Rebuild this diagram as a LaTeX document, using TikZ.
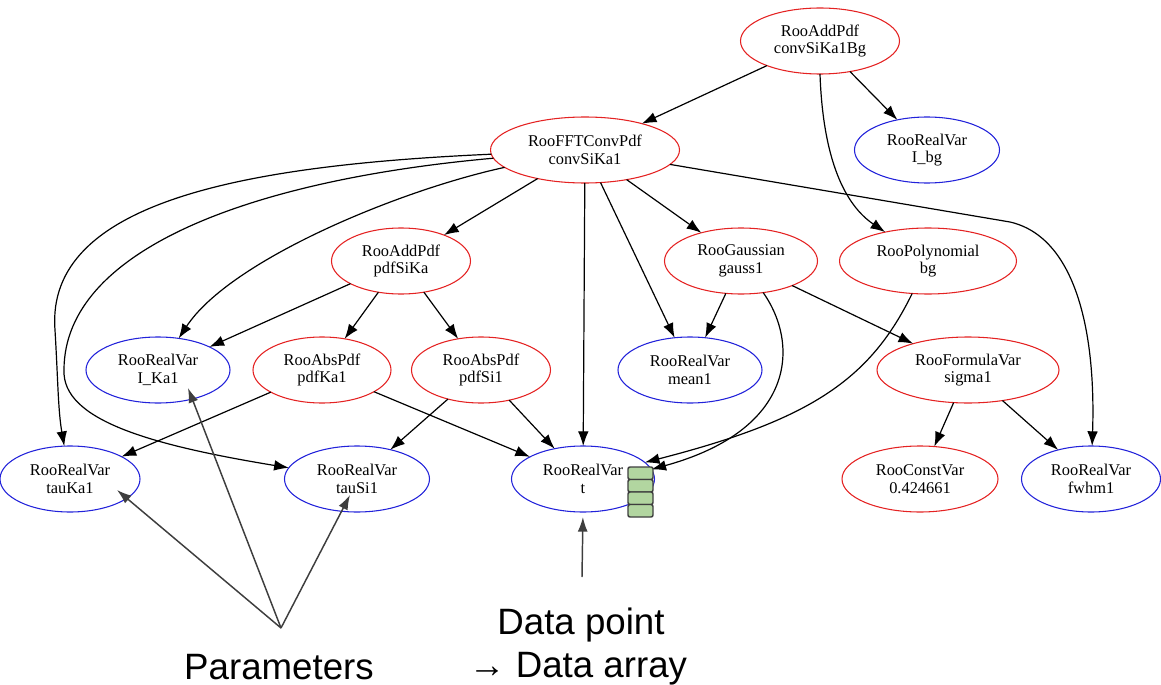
\documentclass[tikz,border=0pt]{standalone}
\usepackage{fontspec}
\setmainfont{Liberation Serif}
\newfontfamily\annfont{Liberation Sans}
\usetikzlibrary{arrows.meta,shapes.geometric}

\definecolor{pdfred}{RGB}{228,34,34}
\definecolor{varblue}{RGB}{34,34,218}
\definecolor{cellgreen}{RGB}{178,214,160}
\definecolor{anngray}{RGB}{62,62,62}

\begin{document}
\begin{tikzpicture}[x=0.75pt,y=-0.75pt,
  every node/.style={inner sep=0pt, outer sep=0pt},
  roo/.style={ellipse, draw, line width=0.8pt, minimum height=49.5pt, align=center,
    font=\fontsize{12.3}{13.3}\selectfont},
  pdf/.style={roo, draw=pdfred},
  var/.style={roo, draw=varblue},
  dep/.style={line width=0.9pt, -{Latex[length=11pt,width=8pt]}},
  ann/.style={draw=anngray, line width=1.1pt, -{Latex[length=11pt,width=7.5pt]}},
  cell/.style={draw=anngray, fill=cellgreen, line width=1.1pt, rounded corners=1.5pt,
    minimum width=18.75pt, minimum height=9.375pt},
  big/.style={font=\annfont\fontsize{27.5}{33}\selectfont}
]
\useasboundingbox (0,0) rectangle (1161,685);

% model graph
\node[pdf, minimum width=119.25pt] (cBg)     at (820,41)  {RooAddPdf\\convSiKa1Bg};
\node[pdf, minimum width=141.75pt] (fft)     at (585,150) {RooFFTConvPdf\\convSiKa1};
\node[var, minimum width=108.75pt] (Ibg)     at (927,150) {RooRealVar\\I\_bg};
\node[pdf, minimum width=104.25pt] (pdfSiKa) at (401,261) {RooAddPdf\\pdfSiKa};
\node[pdf, minimum width=114.75pt] (gauss1)  at (741,261) {RooGaussian\\gauss1};
\node[pdf, minimum width=132.75pt] (bg)      at (928,261) {RooPolynomial\\bg};
\node[var, minimum width=108pt]    (IKa1)    at (158,370) {RooRealVar\\I\_Ka1};
\node[pdf, minimum width=103.5pt]  (pdfKa1)  at (322,370) {RooAbsPdf\\pdfKa1};
\node[pdf, minimum width=104.25pt] (pdfSi1)  at (481,370) {RooAbsPdf\\pdfSi1};
\node[var, minimum width=108pt]    (mean1)   at (690,370) {RooRealVar\\mean1};
\node[pdf, minimum width=136.5pt]  (sigma1)  at (968,370) {RooFormulaVar\\sigma1};
\node[var, minimum width=105pt]    (tauKa1)  at (70,479)  {RooRealVar\\tauKa1};
\node[var, minimum width=108.75pt] (tauSi1)  at (357,479) {RooRealVar\\tauSi1};
\node[var, minimum width=107.25pt] (t)       at (583,479) {RooRealVar\\t};
\node[pdf, minimum width=117pt]    (const)   at (920,479) {RooConstVar\\0.424661};
\node[var, minimum width=104.25pt] (fwhm1)   at (1091,479) {RooRealVar\\fwhm1};

% dependencies
\draw[dep] (cBg) -- (fft);
\draw[dep] (cBg) -- (Ibg);
\draw[dep] (cBg.south) .. controls (823,160) and (845,205) .. (bg);
\draw[dep] (fft) -- (pdfSiKa);
\draw[dep] (fft) -- (gauss1);
\draw[dep] (fft) -- (mean1);
\draw[dep] (fft) -- (t);
\draw[dep] (fft) -- (1010,222) .. controls (1075,237) and (1096,330) .. (fwhm1);
\draw[dep] (fft) .. controls (250,165) and (45,200) .. (55,330)
                 .. controls (58,380) and (58,410) .. (tauKa1);
\draw[dep] (fft) .. controls (250,180) and (64,250) .. (64,370)
                 .. controls (62,420) and (150,445) .. (tauSi1);
\draw[dep] (fft) .. controls (400,190) and (230,260) .. (IKa1);
\draw[dep] (pdfSiKa) -- (IKa1);
\draw[dep] (pdfSiKa) -- (pdfKa1);
\draw[dep] (pdfSiKa) -- (pdfSi1);
\draw[dep] (pdfKa1) -- (tauKa1);
\draw[dep] (pdfKa1) -- (t);
\draw[dep] (pdfSi1) -- (tauSi1);
\draw[dep] (pdfSi1) -- (t);
\draw[dep] (gauss1) -- (mean1);
\draw[dep] (gauss1) -- (sigma1);
\draw[dep] (gauss1) .. controls (800,345) and (795,430) .. (t.8);
\draw[dep] (bg) .. controls (870,380) and (810,420) .. (t.15);
\draw[dep] (sigma1) -- (const);
\draw[dep] (sigma1) -- (fwhm1);

% data array attached to t
\node[cell] (c1) at (640.5,473.25) {};
\node[cell] (c2) at (640.5,485.75) {};
\node[cell] (c3) at (640.5,498.25) {};
\node[cell] (c4) at (640.5,510.75) {};

% annotations
\coordinate (par) at (281,628);
\draw[ann] (par) -- ([shift={(47,11)}]tauKa1.center);
\draw[ann] (par) -- ([shift={(30,18)}]IKa1.center);
\draw[ann] (par) -- ([shift={(-7,16)}]tauSi1.center);
\node[big, anchor=base] (params) at (279,679) {Parameters};

\coordinate (dp) at (582,577);
\draw[ann, shorten >=3.75pt] (dp) -- (t.south);
\node[big, anchor=base] (dpt)  at (581,634) {Data point};
\node[big, anchor=base] (darr) at (578,677) {→ Data array};
\end{tikzpicture}
\end{document}
